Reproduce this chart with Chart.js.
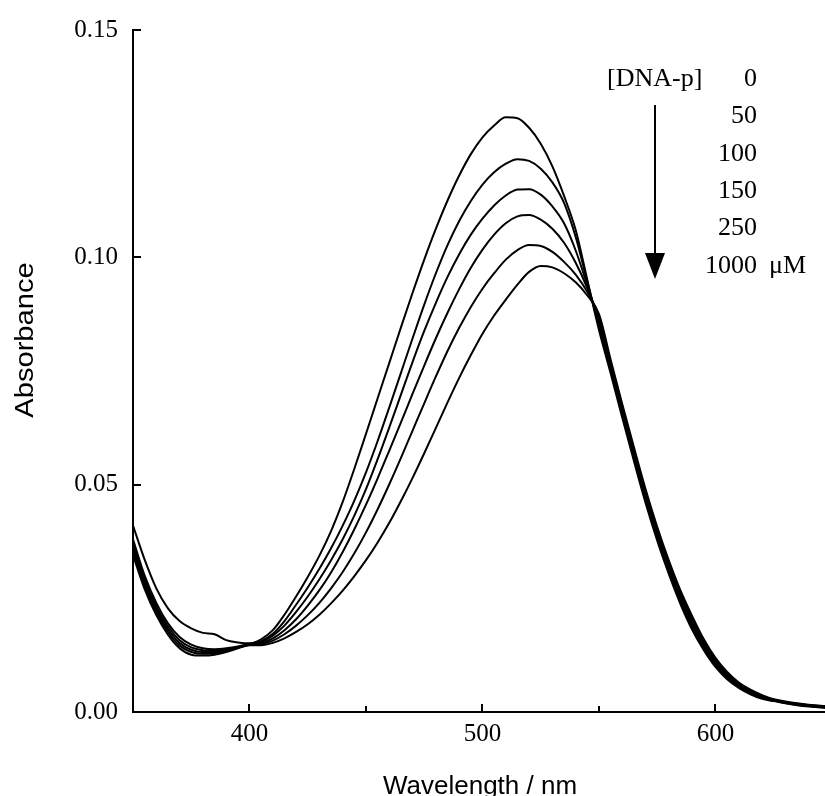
<!DOCTYPE html>
<html>
<head>
<meta charset="utf-8">
<script src="https://cdn.jsdelivr.net/npm/chart.js@4.4.1/dist/chart.umd.min.js"></script>
<style>
  html, body { margin: 0; padding: 0; background: #fff; }
  #wrap { width: 825px; height: 796px; }
</style>
</head>
<body>
<div id="wrap"><canvas id="chart" width="825" height="796"></canvas></div>
<script>
// wavelength grid (nm), shared by all six spectra
const wavelengths = [
  350, 355, 360, 365, 370, 375, 380, 385, 390, 395,
  400, 405, 410, 415, 420, 425, 430, 435, 440, 445,
  450, 455, 460, 465, 470, 475, 480, 485, 490, 495,
  500, 505, 510, 515, 520, 525, 530, 535, 540, 545,
  550, 555, 560, 565, 570, 575, 580, 585, 590, 595,
  600, 605, 610, 615, 620, 625, 630, 635, 640, 645, 647
];

// absorbance, [DNA-p] = 0 uM
const abs0 = [
  0.0410, 0.0335, 0.0272, 0.0228, 0.0200, 0.0184, 0.0174, 0.0171, 0.0158, 0.0153,
  0.0151, 0.0160, 0.0180, 0.0214, 0.0254, 0.0297, 0.0344, 0.0398, 0.0462, 0.0535,
  0.0612, 0.0690, 0.0768, 0.0846, 0.0922, 0.0995, 0.1063, 0.1125, 0.1180, 0.1227,
  0.1264, 0.1290, 0.1308, 0.1306, 0.1285, 0.1250, 0.1200, 0.1135, 0.1060, 0.0950,
  0.0840, 0.0745, 0.0647, 0.0552, 0.0460, 0.0377, 0.0303, 0.0237, 0.0181, 0.0136,
  0.0099, 0.0072, 0.0053, 0.0039, 0.0029, 0.0024, 0.0019, 0.0015, 0.0012, 0.0010, 0.0009
];
// 50 uM
const abs50 = [
  0.0380, 0.0300, 0.0240, 0.0195, 0.0165, 0.0148, 0.0140, 0.0138, 0.0140, 0.0144,
  0.0150, 0.0156, 0.0172, 0.0200, 0.0236, 0.0274, 0.0315, 0.0360, 0.0410, 0.0465,
  0.0527, 0.0596, 0.0670, 0.0746, 0.0822, 0.0896, 0.0965, 0.1027, 0.1080, 0.1124,
  0.1160, 0.1187, 0.1206, 0.1216, 0.1212, 0.1195, 0.1165, 0.1120, 0.1045, 0.0946,
  0.0848, 0.0751, 0.0653, 0.0558, 0.0466, 0.0383, 0.0309, 0.0243, 0.0187, 0.0141,
  0.0103, 0.0075, 0.0055, 0.0041, 0.0031, 0.0025, 0.0020, 0.0016, 0.0013, 0.0011, 0.0010
];
// 100 uM
const abs100 = [
  0.0370, 0.0292, 0.0232, 0.0188, 0.0158, 0.0142, 0.0136, 0.0135, 0.0138, 0.0143,
  0.0149, 0.0154, 0.0168, 0.0190, 0.0220, 0.0254, 0.0292, 0.0334, 0.0380, 0.0432,
  0.0490, 0.0556, 0.0626, 0.0698, 0.0770, 0.0838, 0.0900, 0.0957, 0.1007, 0.1050,
  0.1085, 0.1114, 0.1136, 0.1149, 0.1150, 0.1138, 0.1112, 0.1075, 0.1015, 0.0938,
  0.0855, 0.0757, 0.0659, 0.0564, 0.0472, 0.0389, 0.0315, 0.0249, 0.0193, 0.0146,
  0.0107, 0.0078, 0.0058, 0.0043, 0.0032, 0.0026, 0.0021, 0.0017, 0.0014, 0.0012, 0.0011
];
// 150 uM
const abs150 = [
  0.0362, 0.0285, 0.0226, 0.0182, 0.0152, 0.0137, 0.0132, 0.0132, 0.0136, 0.0142,
  0.0148, 0.0151, 0.0162, 0.0180, 0.0204, 0.0234, 0.0268, 0.0307, 0.0352, 0.0402,
  0.0456, 0.0514, 0.0575, 0.0637, 0.0700, 0.0762, 0.0822, 0.0878, 0.0930, 0.0977,
  0.1017, 0.1050, 0.1075, 0.1090, 0.1093, 0.1083, 0.1063, 0.1032, 0.0988, 0.0932,
  0.0862, 0.0763, 0.0665, 0.0570, 0.0478, 0.0395, 0.0321, 0.0255, 0.0199, 0.0150,
  0.0111, 0.0082, 0.0060, 0.0045, 0.0034, 0.0026, 0.0021, 0.0017, 0.0014, 0.0012, 0.0011
];
// 250 uM
const abs250 = [
  0.0355, 0.0278, 0.0220, 0.0176, 0.0146, 0.0132, 0.0128, 0.0129, 0.0134, 0.0141,
  0.0148, 0.0149, 0.0157, 0.0171, 0.0190, 0.0213, 0.0240, 0.0272, 0.0308, 0.0349,
  0.0395, 0.0446, 0.0501, 0.0559, 0.0619, 0.0679, 0.0738, 0.0794, 0.0845, 0.0891,
  0.0931, 0.0965, 0.0995, 0.1016, 0.1027, 0.1025, 0.1012, 0.0990, 0.0962, 0.0924,
  0.0870, 0.0769, 0.0671, 0.0576, 0.0484, 0.0401, 0.0327, 0.0261, 0.0205, 0.0155,
  0.0115, 0.0085, 0.0063, 0.0047, 0.0035, 0.0027, 0.0022, 0.0018, 0.0015, 0.0013, 0.0012
];
// 1000 uM
const abs1000 = [
  0.0345, 0.0270, 0.0213, 0.0170, 0.0140, 0.0126, 0.0124, 0.0126, 0.0132, 0.0140,
  0.0147, 0.0147, 0.0152, 0.0162, 0.0176, 0.0193, 0.0214, 0.0239, 0.0267, 0.0299,
  0.0334, 0.0373, 0.0416, 0.0464, 0.0515, 0.0569, 0.0625, 0.0681, 0.0735, 0.0785,
  0.0832, 0.0872, 0.0907, 0.0940, 0.0968, 0.0981, 0.0978, 0.0965, 0.0945, 0.0916,
  0.0875, 0.0775, 0.0677, 0.0582, 0.0490, 0.0407, 0.0333, 0.0267, 0.0211, 0.0160,
  0.0119, 0.0088, 0.0065, 0.0049, 0.0037, 0.0028, 0.0023, 0.0019, 0.0016, 0.0014, 0.0013
];

const concentrations = ['0', '50', '100', '150', '250', '1000'];
const xTickValues = [400, 450, 500, 550, 600];
const xLabelValues = [400, 500, 600];
const yTickValues = [0, 0.05, 0.10, 0.15];

const serif = '"Liberation Serif", "Times New Roman", serif';
const sans = '"Liberation Sans", Arial, sans-serif';

const series = [abs0, abs50, abs100, abs150, abs250, abs1000];

// inward tick marks, axis titles and the [DNA-p] legend
const decorations = {
  id: 'decorations',
  afterDraw(chart) {
    const ctx = chart.ctx;
    const { x, y } = chart.scales;
    const area = chart.chartArea;
    ctx.save();
    ctx.strokeStyle = '#000';
    ctx.lineWidth = 2;
    xTickValues.forEach(v => {
      const px = Math.round(x.getPixelForValue(v));
      const len = xLabelValues.includes(v) ? 8 : 6;
      ctx.beginPath();
      ctx.moveTo(px, area.bottom);
      ctx.lineTo(px, area.bottom - len);
      ctx.stroke();
    });
    yTickValues.forEach(v => {
      const py = Math.round(y.getPixelForValue(v));
      ctx.beginPath();
      ctx.moveTo(area.left, py);
      ctx.lineTo(area.left + 8, py);
      ctx.stroke();
    });

    ctx.fillStyle = '#000';
    ctx.font = '26px ' + sans;
    ctx.textAlign = 'center';
    ctx.textBaseline = 'alphabetic';
    ctx.fillText('Wavelength / nm', 480, 794);

    ctx.save();
    ctx.translate(33, 340);
    ctx.rotate(-Math.PI / 2);
    ctx.scale(1.12, 1);
    ctx.fillText('Absorbance', 0, 0);
    ctx.restore();

    ctx.font = '26px ' + serif;
    ctx.textBaseline = 'middle';
    ctx.textAlign = 'left';
    ctx.fillText('[DNA-p]', 607, 79);
    ctx.textAlign = 'right';
    concentrations.forEach((c, i) => {
      ctx.fillText(c, 757, 79 + i * 37.4);
    });
    ctx.textAlign = 'left';
    ctx.fillText('\u03bcM', 769, 266);

    ctx.beginPath();
    ctx.moveTo(655, 105);
    ctx.lineTo(655, 256);
    ctx.stroke();
    ctx.beginPath();
    ctx.moveTo(645, 253);
    ctx.lineTo(665, 253);
    ctx.lineTo(655, 279);
    ctx.closePath();
    ctx.fill();
    ctx.restore();
  }
};

new Chart(document.getElementById('chart'), {
  type: 'line',
  data: {
    datasets: series.map((values, i) => ({
      label: concentrations[i] + ' \u03bcM',
      data: wavelengths.map((w, j) => ({ x: w, y: values[j] })),
      borderColor: '#000',
      borderWidth: 2,
      pointRadius: 0,
      fill: false,
      cubicInterpolationMode: 'monotone'
    }))
  },
  options: {
    responsive: false,
    animation: false,
    devicePixelRatio: 1,
    layout: { padding: { top: 27, right: 0, bottom: 0, left: 0 } },
    plugins: {
      legend: { display: false },
      tooltip: { enabled: false }
    },
    scales: {
      x: {
        type: 'linear',
        min: 350,
        max: 647,
        border: { display: true, color: '#000', width: 2 },
        grid: { display: false, drawTicks: false },
        afterBuildTicks: scale => { scale.ticks = xTickValues.map(value => ({ value })); },
        afterFit: scale => { scale.height = 84; },
        ticks: {
          padding: 7,
          color: '#000',
          maxRotation: 0,
          autoSkip: false,
          font: { family: serif, size: 25 },
          callback: v => xLabelValues.includes(v) ? String(v) : ''
        }
      },
      y: {
        min: 0,
        max: 0.15,
        border: { display: true, color: '#000', width: 2 },
        grid: { display: false, drawTicks: false },
        afterBuildTicks: scale => { scale.ticks = yTickValues.map(value => ({ value })); },
        afterFit: scale => { scale.width = 133; },
        ticks: {
          padding: 15,
          color: '#000',
          font: { family: serif, size: 25 },
          callback: v => v.toFixed(2)
        }
      }
    }
  },
  plugins: [decorations]
});
</script>
</body>
</html>
